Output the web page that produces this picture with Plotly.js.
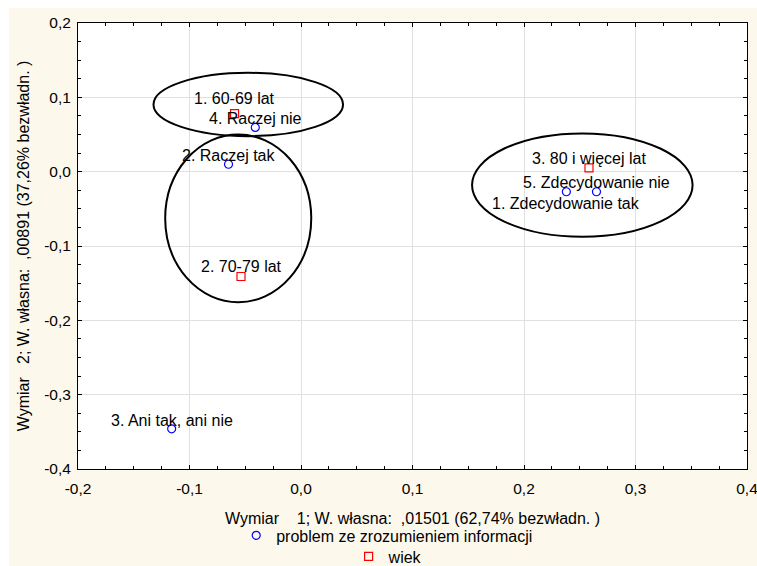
<!DOCTYPE html>
<html>
<head>
<meta charset="utf-8">
<script src="https://cdn.plot.ly/plotly-3.0.1.min.js"></script>
<style>
html,body{margin:0;padding:0;background:#ffffff;width:757px;height:566px;overflow:hidden;}
#chart{position:absolute;left:9px;top:8px;width:748px;height:558px;}
</style>
</head>
<body>
<div id="chart"></div>
<script>
// Series 1: problem ze zrozumieniem informacji
const probLabels = ["1. Zdecydowanie tak", "2. Raczej tak", "3. Ani tak, ani nie", "4. Raczej nie", "5. Zdecydowanie nie"];
const probX = [0.238, -0.065, -0.116, -0.041, 0.265];
const probY = [-0.027, 0.010, -0.346, 0.0595, -0.027];

// Series 2: wiek
const wiekLabels = ["1. 60-69 lat", "2. 70-79 lat", "3. 80 i więcej lat"];
const wiekX = [-0.0596, -0.0538, 0.2583];
const wiekY = [0.078, -0.141, 0.005];

// Ellipses (groups): centre x, centre y, radius x, radius y
const ellCX = [-0.0473, -0.0563, 0.2523];
const ellCY = [0.0904, -0.0628, -0.018];
const ellRX = [0.085, 0.0655, 0.0989];
const ellRY = [0.0426, 0.1129, 0.0695];

// Ticks
const xTickVals = [-0.2, -0.1, 0.0, 0.1, 0.2, 0.3, 0.4];
const xTickText = ["-0,2", "-0,1", "0,0", "0,1", "0,2", "0,3", "0,4"];
const yTickVals = [-0.4, -0.3, -0.2, -0.1, 0.0, 0.1, 0.2];
const yTickText = ["-0,4", "-0,3", "-0,2", "-0,1", "0,0", "0,1", "0,2"];

const seriesNames = ["problem ze zrozumieniem informacji", "wiek"];

// label vertical offsets (px) for point labels
const probShift = [-12, 9, 8, 9, 9];
const wiekShift = [15, 10, 9];

const FONT = "Liberation Sans, Arial, sans-serif";

const traces = [
  {
    x: probX, y: probY, type: "scatter", mode: "markers",
    name: seriesNames[0], legend: "legend",
    marker: {symbol: "circle-open", size: 8, color: "#0000ff", line: {width: 1.2, color: "#0000ff"}},
    hoverinfo: "skip"
  },
  {
    x: wiekX, y: wiekY, type: "scatter", mode: "markers",
    name: seriesNames[1], legend: "legend2",
    marker: {symbol: "square-open", size: 8, color: "#ff0000", line: {width: 1.2, color: "#ff0000"}},
    hoverinfo: "skip"
  }
];

const annotations = [];
probLabels.forEach((t, i) => annotations.push({
  x: probX[i], y: probY[i], xref: "x", yref: "y", text: t, showarrow: false,
  xanchor: "center", yanchor: "middle", yshift: probShift[i],
  font: {family: FONT, size: 16, color: "#000"}
}));
wiekLabels.forEach((t, i) => annotations.push({
  x: wiekX[i], y: wiekY[i], xref: "x", yref: "y", text: t, showarrow: false,
  xanchor: "center", yanchor: "middle", yshift: wiekShift[i],
  font: {family: FONT, size: 16, color: "#000"}
}));

const shapes = ellCX.map((cx, i) => ({
  type: "circle", xref: "x", yref: "y",
  x0: cx - ellRX[i], x1: cx + ellRX[i], y0: ellCY[i] - ellRY[i], y1: ellCY[i] + ellRY[i],
  line: {color: "#000", width: 2}, fillcolor: "rgba(0,0,0,0)", layer: "above"
}));

const axisCommon = {
  showline: true, linecolor: "#000", linewidth: 1, mirror: "ticks",
  ticks: "inside", ticklen: 4, tickcolor: "#000", tickwidth: 1,
  showgrid: true, gridcolor: "#e0e0e0", gridwidth: 1,
  zeroline: false, tickfont: {family: FONT, size: 15.5, color: "#000"},
  tickmode: "array", automargin: false, ticklabeloverflow: "allow"
};

const layout = {
  width: 748, height: 558,
  margin: {l: 69, r: 10, t: 15, b: 97, autoexpand: false},
  paper_bgcolor: "#fdf8ec", plot_bgcolor: "#ffffff",
  font: {family: FONT, size: 16, color: "#000"},
  xaxis: Object.assign({}, axisCommon, {
    range: [-0.2, 0.4], tickvals: xTickVals, ticktext: xTickText,
    ticklabelstandoff: 5,
    minor: {dtick: 0.025, ticks: "inside", ticklen: 3, tickcolor: "#000", showgrid: false},
    title: {text: "Wymiar\u00a0\u00a0\u00a0\u00a01; W. własna:\u00a0\u00a0,01501 (62,74% bezwładn. )", font: {family: FONT, size: 16, color: "#000"}, standoff: 17}
  }),
  yaxis: Object.assign({}, axisCommon, {
    range: [-0.4, 0.2], tickvals: yTickVals, ticktext: yTickText,
    ticklabelstandoff: 3,
    minor: {dtick: 0.025, ticks: "inside", ticklen: 3, tickcolor: "#000", showgrid: false},
    title: {text: "Wymiar\u00a0\u00a0\u00a02; W. własna:\u00a0\u00a0,00891 (37,26% bezwładn. )", font: {family: FONT, size: 16, color: "#000"}, standoff: 10}
  }),
  showlegend: true,
  legend: {x: 0.2365, xanchor: "left", y: -0.149, yanchor: "middle", bgcolor: "rgba(0,0,0,0)", font: {family: FONT, size: 16, color: "#000"}, itemclick: false},
  legend2: {x: 0.4045, xanchor: "left", y: -0.196, yanchor: "middle", bgcolor: "rgba(0,0,0,0)", font: {family: FONT, size: 16, color: "#000"}, itemclick: false},
  shapes: shapes,
  annotations: annotations
};

Plotly.newPlot("chart", traces, layout, {staticPlot: true, displayModeBar: false});
</script>
</body>
</html>
